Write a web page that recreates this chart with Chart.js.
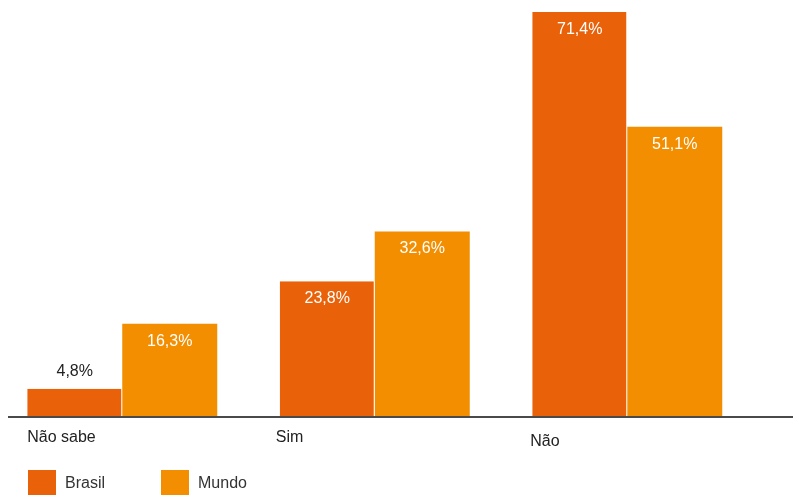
<!DOCTYPE html>
<html>
<head>
<meta charset="utf-8">
<script src="https://cdn.jsdelivr.net/npm/chart.js@4.4.0/dist/chart.umd.min.js"></script>
<style>
  html, body { margin: 0; padding: 0; background: #fff; overflow: hidden; }
  #wrap { position: absolute; left: -4px; top: 0; width: 797px; height: 495px; }
</style>
</head>
<body>
<div id="wrap"><canvas id="chart"></canvas></div>
<script>
const categories = ['Não sabe', 'Sim', 'Não'];
const brasilData = [4.8, 23.8, 71.4];
const mundoData = [16.3, 32.6, 51.1];
const seriesNames = ['Brasil', 'Mundo'];
const seriesColors = ['#E9620A', '#F28E00'];

const FONT = '"Liberation Sans", Arial, Helvetica, sans-serif';
const fmt = v => v.toFixed(1).replace('.', ',') + '%';

// dark baseline running past the bars to the right edge
const baseLine = {
  id: 'baseLine',
  afterDatasetsDraw(chart) {
    const ctx = chart.ctx;
    const y = chart.scales.y.getPixelForValue(0);
    ctx.save();
    ctx.fillStyle = '#4a4a4a';
    ctx.fillRect(12, y, chart.width - 12, 2);
    ctx.restore();
  }
};

// percentage labels, inside the bar or above it when the bar is short
const valueLabels = {
  id: 'valueLabels',
  afterDatasetsDraw(chart) {
    const ctx = chart.ctx;
    ctx.save();
    ctx.font = '16px ' + FONT;
    ctx.textAlign = 'center';
    ctx.textBaseline = 'alphabetic';
    chart.data.datasets.forEach((ds, di) => {
      chart.getDatasetMeta(di).data.forEach((bar, i) => {
        const h = bar.base - bar.y;
        const text = fmt(ds.data[i]);
        if (h > 32) {
          ctx.fillStyle = '#ffffff';
          ctx.fillText(text, bar.x, bar.y + 22);
        } else {
          ctx.fillStyle = '#222222';
          ctx.fillText(text, bar.x, bar.y - 13);
        }
      });
    });
    ctx.restore();
  }
};

// category names left-aligned under each group
const categoryLabels = {
  id: 'categoryLabels',
  afterDraw(chart) {
    const ctx = chart.ctx;
    const dx = [0, -4, -2];
    const dy = [0, 0, 4];
    const base = chart.scales.y.getPixelForValue(0);
    ctx.save();
    ctx.font = '16px ' + FONT;
    ctx.fillStyle = '#222222';
    ctx.textAlign = 'left';
    ctx.textBaseline = 'alphabetic';
    chart.getDatasetMeta(0).data.forEach((bar, i) => {
      const left = bar.x - bar.width / 2;
      ctx.fillText(chart.data.labels[i], left + dx[i], base + 26 + dy[i]);
    });
    ctx.restore();
  }
};

// legend: square swatches at the bottom left
const squareLegend = {
  id: 'squareLegend',
  afterDraw(chart) {
    const ctx = chart.ctx;
    ctx.save();
    ctx.font = '16px ' + FONT;
    ctx.textAlign = 'left';
    ctx.textBaseline = 'alphabetic';
    chart.data.datasets.forEach((ds, i) => {
      const x = 32 + i * 133;
      ctx.fillStyle = ds.backgroundColor;
      ctx.fillRect(x, 470, 28, 28);
      ctx.fillStyle = '#333333';
      ctx.fillText(ds.label, x + 37, 488);
    });
    ctx.restore();
  }
};

new Chart(document.getElementById('chart'), {
  type: 'bar',
  data: {
    labels: categories,
    datasets: [{
      label: seriesNames[0],
      data: brasilData,
      backgroundColor: seriesColors[0],
      borderColor: '#ffffff',
      borderWidth: { top: 0, left: 0, bottom: 0, right: 1 },
      borderSkipped: false
    }, {
      label: seriesNames[1],
      data: mundoData,
      backgroundColor: seriesColors[1],
      borderWidth: 0
    }]
  },
  options: {
    responsive: true,
    maintainAspectRatio: false,
    animation: false,
    categoryPercentage: 0.7525,
    barPercentage: 1,
    layout: { padding: { left: 0, right: 39.5, top: 0, bottom: 79 } },
    scales: {
      x: { display: false },
      y: { display: false, min: 0, max: 73.5 }
    },
    plugins: {
      legend: { display: false },
      tooltip: { enabled: false }
    }
  },
  plugins: [baseLine, valueLabels, categoryLabels, squareLegend]
});
</script>
</body>
</html>
